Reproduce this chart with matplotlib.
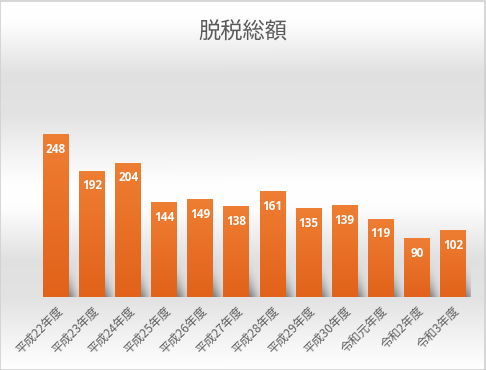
import numpy as np
import matplotlib
matplotlib.use("Agg")
import matplotlib.pyplot as plt
from matplotlib.colors import LinearSegmentedColormap

plt.rcParams['font.family'] = ['Noto Sans CJK JP', 'DejaVu Sans']

categories = ["平成22年度", "平成23年度", "平成24年度", "平成25年度", "平成26年度",
              "平成27年度", "平成28年度", "平成29年度", "平成30年度", "令和元年度",
              "令和2年度", "令和3年度"]
values = [248, 192, 204, 144, 149, 138, 161, 135, 139, 119, 90, 102]
title = "脱税総額"

W, H = 486, 370
fig = plt.figure(figsize=(W / 100, H / 100), dpi=100)

# background gradient
bg = fig.add_axes([0, 0, 1, 1], zorder=-10)
rows = np.linspace(0, 1, 256)
stops_y = [0.0, 0.12, 0.40, 0.62, 0.85, 1.0]
stops_v = [1.0, 0.995, 0.88, 0.89, 0.96, 1.0]
g = np.interp(rows, stops_y, stops_v)
img = np.dstack([g, g, g])[:, None, :].repeat(2, axis=1).reshape(256, 2, 3)
bg.imshow(img, aspect='auto', extent=[0, 1, 1, 0])
bg.set_xlim(0, 1); bg.set_ylim(1, 0)
bg.axis('off')
bg.add_patch(plt.Rectangle((0.001, 0.001), 0.997, 0.996, fill=False,
                           edgecolor='#d0d0d0', lw=1.2, transform=bg.transAxes))

left, right, base, top = 38, 471, 297, 60
ax = fig.add_axes([left / W, (H - base) / H, (right - left) / W, (base - top) / H])
ax.patch.set_alpha(0)
x = np.arange(len(categories))
bars = ax.bar(x, values, width=0.72, color='none', edgecolor='none', zorder=3)

cmap = LinearSegmentedColormap.from_list('o', ['#E2621A', '#EE7E33'])
grad = np.linspace(0, 1, 128)[:, None]
for b in bars:
    x0, w, h = b.get_x(), b.get_width(), b.get_height()
    im = ax.imshow(grad, cmap=cmap, origin='lower', aspect='auto',
                   extent=[x0, x0 + w, 0, h], zorder=3)
    im.set_clip_path(b)
    # soft shadow behind the bar
    sh_h = min(h, 65)
    n = 40
    yy = np.linspace(0, 1, n)[:, None]
    xx = np.linspace(0, 1, n)[None, :]
    alpha = np.clip(1 - yy, 0, 1) ** 1.2 * np.exp(-((xx - 0.45 + 0.3 * yy) ** 2) / 0.07) * 0.7
    rgba = np.zeros((n, n, 4))
    rgba[..., :3] = 0.32
    rgba[..., 3] = alpha
    ax.imshow(rgba, origin='lower', aspect='auto',
              extent=[x0 + 0.2, x0 + w + 0.5, 0, sh_h], zorder=2, interpolation='bilinear')

for b, v in zip(bars, values):
    ax.annotate(str(v), (b.get_x() + b.get_width() / 2, v), xytext=(0, -11),
                textcoords='offset points', ha='center', va='center',
                color='white', fontsize=8.5, fontweight='bold',
                family=['Open Sans', 'DejaVu Sans'], zorder=5)

ax.set_xlim(-0.5, len(categories) - 0.5)
ax.set_ylim(0, 360)
ax.set_xticks(x)
ax.set_xticklabels(categories, rotation=45, ha='right', va='top',
                   rotation_mode='anchor', fontsize=8.6, color='#606060')
ax.tick_params(axis='x', length=0, pad=5)
for lbl in ax.get_xticklabels():
    lbl.set_x(lbl.get_position()[0])
ax.set_yticks([])
for s in ax.spines.values():
    s.set_visible(False)

fig.text(0.5, 1 - 32 / H, title, ha='center', va='center', fontsize=16,
         color='#595959')

fig.savefig('out.png', dpi=100)
